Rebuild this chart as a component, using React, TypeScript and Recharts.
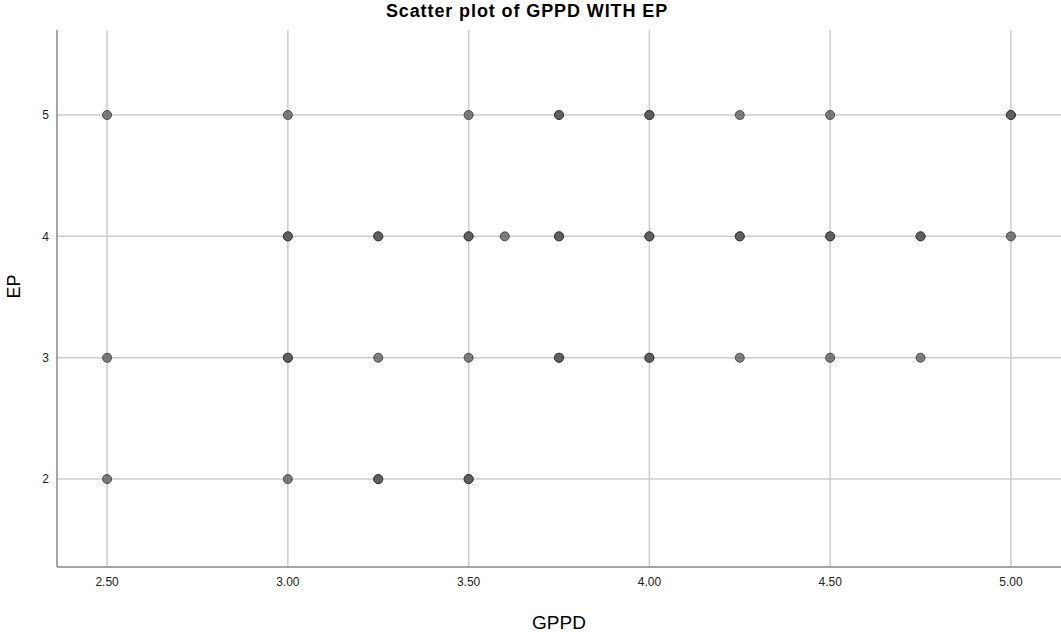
import { CartesianGrid, Scatter, ScatterChart, XAxis, YAxis } from "recharts";

// GPPD values at each EP level (repeats = overlapping points that look darker)
const ep5 = [2.5, 3.0, 3.5, 3.75, 3.75, 4.0, 4.0, 4.25, 4.5, 5.0, 5.0];
const ep4 = [3.0, 3.0, 3.25, 3.25, 3.5, 3.5, 3.6, 3.75, 3.75, 4.0, 4.0, 4.25, 4.25, 4.5, 4.5, 4.75, 4.75, 5.0];
const ep3 = [2.5, 3.0, 3.0, 3.25, 3.5, 3.75, 3.75, 4.0, 4.0, 4.25, 4.5, 4.75];
const ep2 = [2.5, 3.0, 3.25, 3.25, 3.5, 3.5];

const xTicks = [2.5, 3.0, 3.5, 4.0, 4.5, 5.0];
const yTicks = [2, 3, 4, 5];

const points = [
  ...ep5.map((g) => ({ gppd: g, ep: 5 })),
  ...ep4.map((g) => ({ gppd: g, ep: 4 })),
  ...ep3.map((g) => ({ gppd: g, ep: 3 })),
  ...ep2.map((g) => ({ gppd: g, ep: 2 })),
];

const font = "'Liberation Sans', Arial, sans-serif";

const Dot = (props: any) => (
  <circle
    cx={props.cx}
    cy={props.cy}
    r={4.5}
    fill="#555555"
    fillOpacity={0.75}
    stroke="#333333"
    strokeOpacity={0.8}
    strokeWidth={1}
  />
);

export default function App() {
  return (
    <div style={{ position: "absolute", left: 0, top: 0, width: 1061, height: 632, background: "#fff", fontFamily: font }}>
      <div
        style={{
          position: "absolute",
          top: 1,
          left: 0,
          width: 1054,
          textAlign: "center",
          fontSize: 18,
          letterSpacing: 0.9,
          fontWeight: "bold",
          color: "#000",
        }}
      >
        Scatter plot of GPPD WITH EP
      </div>
      <ScatterChart width={1061} height={632} margin={{ top: 30, right: 0, left: 0, bottom: 0 }}>
        <CartesianGrid stroke="#cccccc" strokeWidth={1.5} syncWithTicks />
        <XAxis
          type="number"
          dataKey="gppd"
          domain={[2.3615, 5.1385]}
          ticks={xTicks}
          allowDataOverflow
          tickFormatter={(v: number) => v.toFixed(2)}
          tickLine={false}
          tickSize={0}
          tickMargin={10}
          height={65}
          axisLine={{ stroke: "#888888", strokeWidth: 1.5 }}
          tick={{ fill: "#222", fontSize: 12, fontFamily: font }}
          label={{ value: "GPPD", position: "insideBottom", offset: 3, fill: "#000", fontSize: 19, fontFamily: font }}
        />
        <YAxis
          type="number"
          dataKey="ep"
          domain={[1.276, 5.7]}
          ticks={yTicks}
          allowDataOverflow
          tickLine={false}
          tickSize={0}
          tickMargin={8}
          width={57}
          axisLine={{ stroke: "#888888", strokeWidth: 1.5 }}
          tick={{ fill: "#222", fontSize: 12, fontFamily: font }}
          label={{ value: "EP", angle: -90, position: "insideLeft", offset: 14, fill: "#000", fontSize: 18, fontFamily: font }}
        />
        <Scatter data={points} shape={Dot} isAnimationActive={false} />
      </ScatterChart>
    </div>
  );
}
